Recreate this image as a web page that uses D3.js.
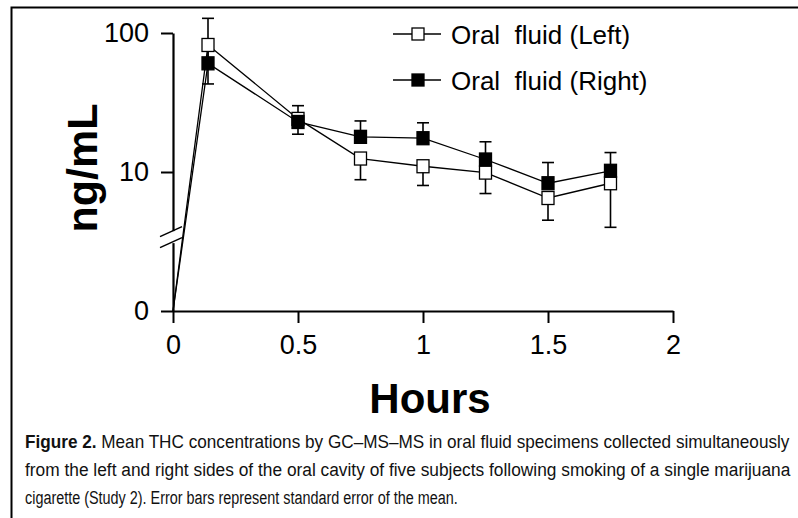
<!DOCTYPE html>
<head>
<style>
	body{
		margin: 0;
		background: white;
	}
	svg{
		display: block;
	}
	text{
		white-space: pre;
	}
</style>
</head>
<body>
<script src="https://cdnjs.cloudflare.com/ajax/libs/d3/7.8.5/d3.min.js" charset="utf-8"></script>
<svg width="798" height="518"></svg>
<script>
	// values (ng/mL), hours after smoking
	var hours = [0, 0.14, 0.5, 0.75, 1, 1.25, 1.5, 1.75];
	var leftMean = [0, 82, 24.1, 12.5, 11.0, 9.9, 6.5, 8.3];
	var leftSem = [0, 39, 5.4, 3.7, 3.0, 2.9, 2.0, 4.3];
	var rightMean = [0, 60.5, 22.9, 17.9, 17.5, 12.3, 8.3, 10.2];
	var rightSem = [0, 67, 7.1, 5.4, 5.1, 4.2, 3.4, 3.6];
	var xTicks = [0, 0.5, 1, 1.5, 2];
	var yTicks = [100, 10, 0];
	var legendLabels = ["Oral  fluid (Left)", "Oral  fluid (Right)"];
	var caption = [
		["Figure 2.", " Mean THC concentrations by GC\u2013MS\u2013MS in oral fluid specimens collected simultaneously"],
		["", "from the left and right sides of the oral cavity of five subjects following smoking of a single marijuana"],
		["", "cigarette (Study 2). Error bars represent standard error of the mean."]
	];

	var numFont = "'Liberation Sans', Arial, sans-serif";

	var svg = d3.select("svg");

	// frame
	svg.append("path")
		.attr("d", "M11.5,518V7.5H798")
		.attr("fill", "none")
		.attr("stroke", "black")
		.attr("stroke-width", 2);

	var x = d3.scaleLinear().domain([0, 2]).range([173, 673]);
	var yLog = d3.scaleLog().domain([10, 100]).range([172, 33]);
	var y = function(v){ return v > 0 ? yLog(v) : 311; };

	// x axis
	var xAxis = svg.append("g")
		.attr("transform", "translate(0,311)")
		.call(d3.axisBottom(x).tickValues(xTicks).tickFormat(d3.format("")).tickSize(12).tickSizeOuter(0).tickPadding(12));
	xAxis.select(".domain").attr("stroke-width", 2.2);
	xAxis.selectAll(".tick line").attr("stroke-width", 2);
	xAxis.selectAll(".tick text")
		.style("font", "27px " + numFont)
		.attr("fill", "black");

	// y axis (log part plus the zero below the break)
	var yAxisScale = d3.scaleOrdinal().domain(yTicks).range(yTicks.map(y));
	var yAxis = svg.append("g")
		.attr("transform", "translate(173,0)")
		.call(d3.axisLeft(yAxisScale).tickSize(12).tickSizeOuter(0).tickPadding(12));
	yAxis.select(".domain").attr("stroke-width", 2.2);
	yAxis.selectAll(".tick line").attr("stroke-width", 2);
	yAxis.selectAll(".tick text")
		.style("font", "27px " + numFont)
		.attr("fill", "black");

	// axis break
	var yb = yLog(3.4);
	svg.append("rect")
		.attr("x", 170).attr("y", yb - 6)
		.attr("width", 6).attr("height", 12)
		.attr("fill", "white");
	[-5.5, 5.5].forEach(function(o){
		svg.append("line")
			.attr("x1", 160).attr("y1", yb + o + 5)
			.attr("x2", 182).attr("y2", yb + o - 5)
			.attr("stroke", "black")
			.attr("stroke-width", 1.6);
	});

	// axis titles
	svg.append("text")
		.attr("x", 430).attr("y", 413)
		.attr("text-anchor", "middle")
		.style("font", "bold 42px " + numFont)
		.text("Hours");
	svg.append("text")
		.attr("transform", "translate(97,168) rotate(-90)")
		.attr("text-anchor", "middle")
		.style("font", "bold 43px " + numFont)
		.text("ng/mL");

	var line = d3.line()
		.x(function(d){ return x(d.t); })
		.y(function(d){ return y(d.v); });

	function pts(means, sems){
		return hours.map(function(t, i){ return {t: t, v: means[i], s: sems[i]}; });
	}
	var leftPts = pts(leftMean, leftSem);
	var rightPts = pts(rightMean, rightSem);

	// connecting lines
	[leftPts, rightPts].forEach(function(p){
		svg.append("path")
			.datum(p)
			.attr("d", line)
			.attr("fill", "none")
			.attr("stroke", "black")
			.attr("stroke-width", 1.3);
	});

	// error bars: left drawn downward, right drawn upward
	function errBars(p, dir){
		var g = svg.append("g").attr("stroke", "black").attr("stroke-width", 1.6);
		var d = p.filter(function(d){ return d.s > 0; });
		g.selectAll("line.bar").data(d).enter().append("line")
			.attr("x1", function(d){ return x(d.t); })
			.attr("x2", function(d){ return x(d.t); })
			.attr("y1", function(d){ return y(d.v); })
			.attr("y2", function(d){ return y(d.v + dir * d.s); });
		g.selectAll("line.cap").data(d).enter().append("line")
			.attr("x1", function(d){ return x(d.t) - 6; })
			.attr("x2", function(d){ return x(d.t) + 6; })
			.attr("y1", function(d){ return y(d.v + dir * d.s); })
			.attr("y2", function(d){ return y(d.v + dir * d.s); });
	}
	errBars(leftPts, -1);
	errBars(rightPts, 1);

	// markers
	function markers(p, fill){
		svg.append("g").selectAll("rect")
			.data(p.filter(function(d){ return d.v > 0; }))
			.enter().append("rect")
			.attr("x", function(d){ return x(d.t) - 6; })
			.attr("y", function(d){ return y(d.v) - 6.5; })
			.attr("width", 12)
			.attr("height", 13)
			.attr("fill", fill)
			.attr("stroke", "black")
			.attr("stroke-width", 1.3);
	}
	markers(leftPts, "white");
	markers(rightPts, "black");

	// legend
	var legend = svg.append("g").selectAll("g")
		.data(legendLabels)
		.enter().append("g")
		.attr("transform", function(d, i){ return "translate(393," + (34 + i * 46) + ")"; });
	legend.append("line")
		.attr("x1", 0).attr("x2", 48)
		.attr("stroke", "black")
		.attr("stroke-width", 1.4);
	legend.append("rect")
		.attr("x", 19).attr("y", -6)
		.attr("width", 12).attr("height", 12)
		.attr("fill", function(d, i){ return i === 0 ? "white" : "black"; })
		.attr("stroke", "black")
		.attr("stroke-width", 1.3);
	legend.append("text")
		.attr("x", 58).attr("y", 10)
		.style("font", "26px " + numFont)
		.text(function(d){ return d; });

	// caption, squeezed horizontally to the condensed width of the original
	var widths = [765, 766, 433];
	caption.forEach(function(c, i){
		var t = svg.append("text")
			.style("font", "19px " + numFont)
			.attr("fill", "#111");
		if(c[0]) t.append("tspan").style("font-weight", "bold").text(c[0]);
		t.append("tspan").text(c[1]);
		var sx = widths[i] / t.node().getComputedTextLength();
		t.attr("transform", "translate(25," + (448 + i * 28) + ") scale(" + sx + ",1)");
	});
</script>
</body>
</html>
